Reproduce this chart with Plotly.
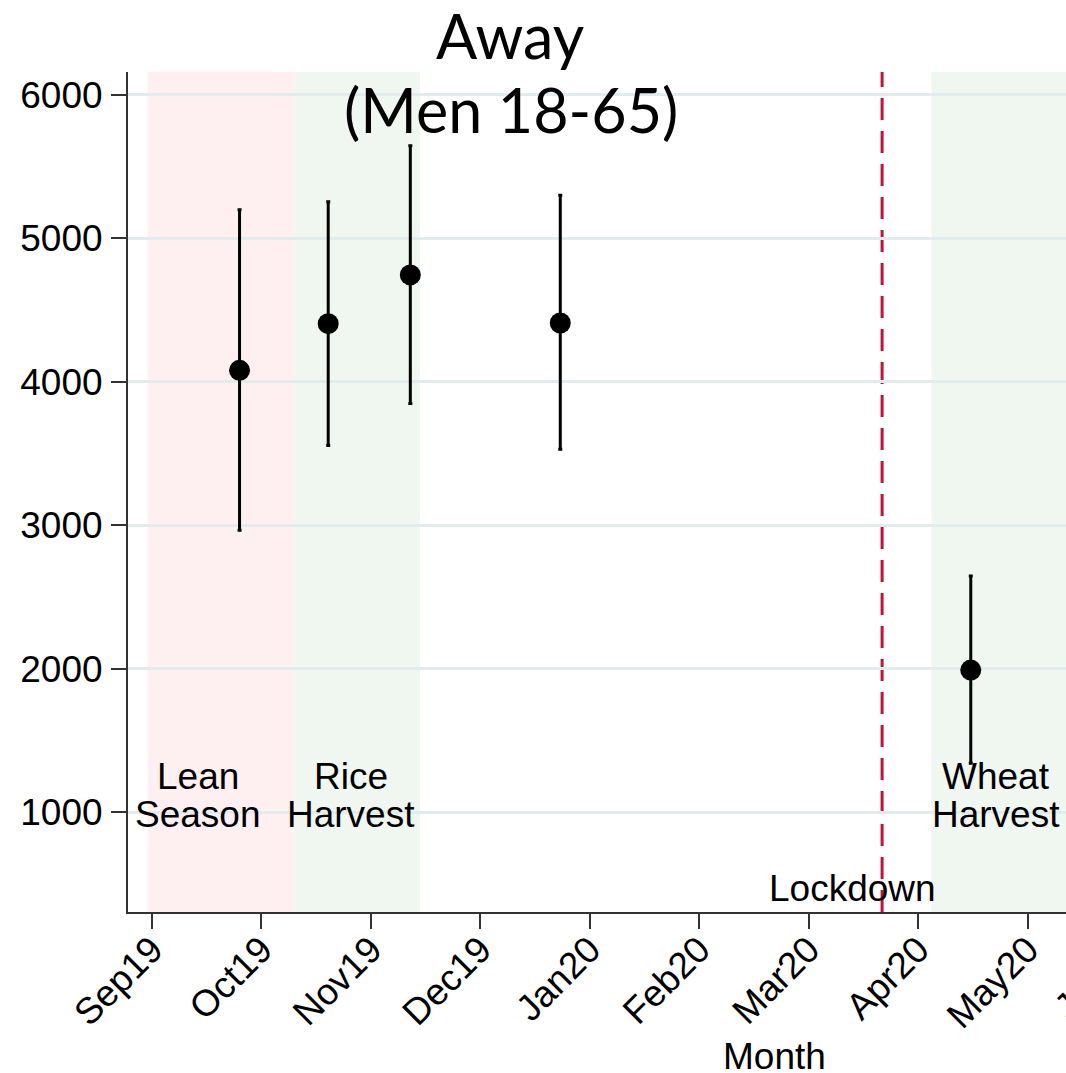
import plotly.graph_objects as go

# Months on an evenly spaced index (0 = Sep19)
month_labels = ["Sep19", "Oct19", "Nov19", "Dec19", "Jan20", "Feb20", "Mar20", "Apr20", "May20"]
month_pos = list(range(len(month_labels)))

# Survey rounds: estimate with 95% CI
survey_month = [0.80, 1.61, 2.36, 3.73, 7.48]
away_mean = [4080, 4405, 4745, 4410, 1990]
ci_low = [2965, 3555, 3848, 3530, 1340]
ci_high = [5200, 5255, 5645, 5300, 2645]

y_ticks = [1000, 2000, 3000, 4000, 5000, 6000]

# Seasonal bands (start, end, colour) and their labels
season_start = [-0.04, 1.30, 7.12]
season_end = [1.30, 2.45, 9.50]
season_color = ["rgb(254,240,240)", "rgb(240,247,240)", "rgb(240,247,240)"]
season_label_x = [0.42, 1.82, 7.71]
season_line1 = ["Lean", "Rice", "Wheat"]
season_line2 = ["Season", "Harvest", "Harvest"]

lockdown_month = 6.67

FONT = "Arial, Liberation Sans, sans-serif"
TITLE_FONT = "Lato"
X_RANGE = [-0.219, 8.35]
Y_RANGE = [303, 6160]

fig = go.Figure()

fig.add_trace(go.Scatter(
    x=survey_month,
    y=away_mean,
    mode="markers",
    marker=dict(color="black", size=21),
    error_y=dict(
        type="data",
        symmetric=False,
        array=[h - m for h, m in zip(ci_high, away_mean)],
        arrayminus=[m - l for m, l in zip(away_mean, ci_low)],
        color="black",
        thickness=3,
        width=2,
    ),
    showlegend=False,
))

for s, e, c in zip(season_start, season_end, season_color):
    fig.add_shape(type="rect", xref="x", yref="paper", x0=s, x1=e, y0=0, y1=1,
                  fillcolor=c, line=dict(width=0), layer="below")

fig.add_shape(type="line", xref="x", yref="paper", x0=lockdown_month, x1=lockdown_month,
              y0=0, y1=1, line=dict(color="#c8103c", width=3, dash="22px,11px"), layer="below")

for x, l1, l2 in zip(season_label_x, season_line1, season_line2):
    fig.add_annotation(x=x, y=1250, xref="x", yref="y", text=l1, showarrow=False,
                       xanchor="center", yanchor="middle",
                       font=dict(family=FONT, size=37, color="black"))
    fig.add_annotation(x=x, y=985, xref="x", yref="y", text=l2, showarrow=False,
                       xanchor="center", yanchor="middle",
                       font=dict(family=FONT, size=37, color="black"))

fig.add_annotation(x=6.40, y=470, xref="x", yref="y", text="Lockdown", showarrow=False,
                   xanchor="center", yanchor="middle",
                   font=dict(family=FONT, size=37, color="black"))

fig.update_layout(
    width=1066,
    height=1073,
    margin=dict(l=128, r=0, t=72, b=161),
    paper_bgcolor="white",
    plot_bgcolor="white",
    xaxis=dict(
        range=X_RANGE,
        tickmode="array",
        tickvals=month_pos,
        ticktext=month_labels,
        tickangle=-45,
        ticks="outside",
        ticklen=15,
        tickwidth=2,
        tickcolor="#333333",
        showline=True,
        linecolor="#333333",
        linewidth=2,
        showgrid=False,
        zeroline=False,
        ticklabelstandoff=-16,
        tickfont=dict(family=FONT, size=37, color="black"),
    ),
    yaxis=dict(
        range=Y_RANGE,
        tickmode="array",
        tickvals=y_ticks,
        ticks="outside",
        ticklen=15,
        tickwidth=2,
        tickcolor="#333333",
        showline=True,
        linecolor="#333333",
        linewidth=2,
        showgrid=True,
        gridcolor="rgb(226,236,236)",
        gridwidth=2.5,
        zeroline=False,
        ticklabelstandoff=1,
        tickfont=dict(family=FONT, size=37, color="black"),
    ),
)

# pixel -> paper helpers for free-standing text
def px_x(px):
    return (px - 128) / (1066 - 128)

def px_y(py):
    return (912 - py) / (912 - 72)

def free_text(text, px, py, font, size, angle=0):
    fig.add_annotation(x=px_x(px), y=px_y(py), xref="paper", yref="paper", text=text,
                       showarrow=False, xanchor="center", yanchor="middle", textangle=angle,
                       font=dict(family=font, size=size, color="black"))

free_text("Away", 510, 36, TITLE_FONT, 61)
free_text("(Men 18-65)", 511, 110, TITLE_FONT, 61)
free_text("Month", 774, 1056, FONT, 37)
# next month's label, running off the right edge
free_text("Jun20", 1096, 977, FONT, 37, angle=-45)

fig.write_html("out.html")
